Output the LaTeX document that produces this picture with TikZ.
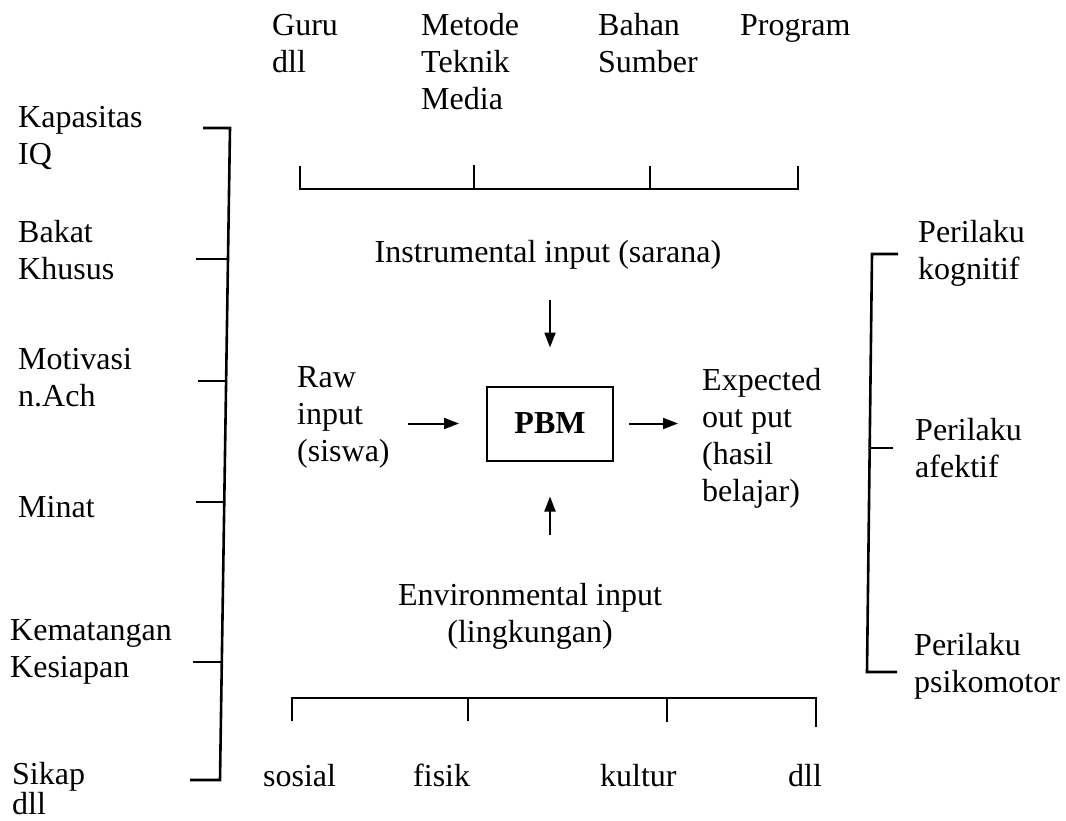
\documentclass[tikz,border=0pt]{standalone}
\usepackage{fontspec}
\setmainfont{Liberation Serif}
\usetikzlibrary{arrows.meta,calc}
\newcommand{\mlL}[1]{\begin{tabular}[t]{@{}l@{}}#1\end{tabular}}
\newcommand{\mlC}[1]{\begin{tabular}[t]{@{}c@{}}#1\end{tabular}}
\begin{document}
\begin{tikzpicture}[x=1pt,y=-1pt,
  font=\fontsize{32}{37}\selectfont,
  lbl/.style={inner sep=0pt, anchor=base west},
  brk/.style={line width=2.6pt},
  bar/.style={line width=2pt},
  arr/.style={line width=2pt, -{Triangle[length=15pt,width=11pt]}}]
\useasboundingbox (0,0) rectangle (1066,821);

% top labels
\node[lbl] (guru) at (272,36) {\mlL{Guru\\dll}};
\node[lbl] (metode) at (421,36) {\mlL{Metode\\Teknik\\Media}};
\node[lbl] (bahan) at (598,36) {\mlL{Bahan\\Sumber}};
\node[lbl] (program) at (740,36) {Program};

% top bracket
\draw[bar] (300,166) -- (300,189) -- (798,189) -- (798,166);
\draw[bar] (474,189) -- (474,165);
\draw[bar] (650,189) -- (650,166);

% centre
\node[inner sep=0pt, anchor=base] (instr) at (548,263) {Instrumental input (sarana)};
\node[draw, line width=2pt, minimum width=126pt, minimum height=74pt, inner sep=0pt,
      font=\fontsize{32}{37}\selectfont\bfseries] (pbm) at (550,423.5) {PBM};
\node[lbl] (raw) at (297,387) {\mlL{Raw\\input\\(siswa)}};
\node[lbl] (exp) at (702,390) {\mlL{Expected\\out put\\(hasil\\belajar)}};
\node[inner sep=0pt, anchor=base] (env) at (530,605) {\mlC{Environmental input\\(lingkungan)}};

\draw[arr, shorten <=30pt, shorten >=38pt] (instr.south -| pbm.north) -- (pbm.north);
\draw[arr, shorten <=44pt, shorten >=35pt] (env.north -| pbm.south) -- (pbm.south);
\draw[arr, shorten <=18pt, shorten >=27pt] (raw.east |- pbm.west) -- (pbm.west);
\draw[arr, shorten <=15pt, shorten >=24pt] (pbm.east) -- (exp.west |- pbm.east);

% bottom bracket
\draw[bar] (292,721) -- (292,698) -- (816,698) -- (816,727);
\draw[bar] (468,698) -- (468,721);
\draw[bar] (667,698) -- (667,722);
\node[lbl] (sosial) at (263,786) {sosial};
\node[lbl] (fisik) at (413,786) {fisik};
\node[lbl] (kultur) at (600,786) {kultur};
\node[lbl] (dllb) at (788,786) {dll};

% left labels
\node[lbl] (kap) at (18,128) {\mlL{Kapasitas\\IQ}};
\node[lbl] (bakat) at (18,243) {\mlL{Bakat\\Khusus}};
\node[lbl] (motiv) at (18,369) {\mlL{Motivasi\\n.Ach}};
\node[lbl] (minat) at (18,517) {Minat};
\node[lbl] (kemat) at (10,640) {\mlL{Kematangan\\Kesiapan}};
\node[lbl] (sikap) at (12,784) {\mlL{Sikap\\[-7pt]dll}};

% left bracket
\draw[brk] (203,128) -- (230,128) -- (220,780) -- (190,780);
\draw[brk] (196,259) -- (228,259);
\draw[brk] (198,381) -- (226,381);
\draw[brk] (196,502) -- (224,502);
\draw[brk] (193,662) -- (222,662);

% right bracket
\draw[brk] (898,254) -- (872,254) -- (867,672) -- (897,672);
\draw[brk] (869,448) -- (893,448);

% right labels
\node[lbl] (kog) at (918,243) {\mlL{Perilaku\\kognitif}};
\node[lbl] (afe) at (915,440) {\mlL{Perilaku\\afektif}};
\node[lbl] (psi) at (914,655) {\mlL{Perilaku\\psikomotor}};
\end{tikzpicture}
\end{document}
